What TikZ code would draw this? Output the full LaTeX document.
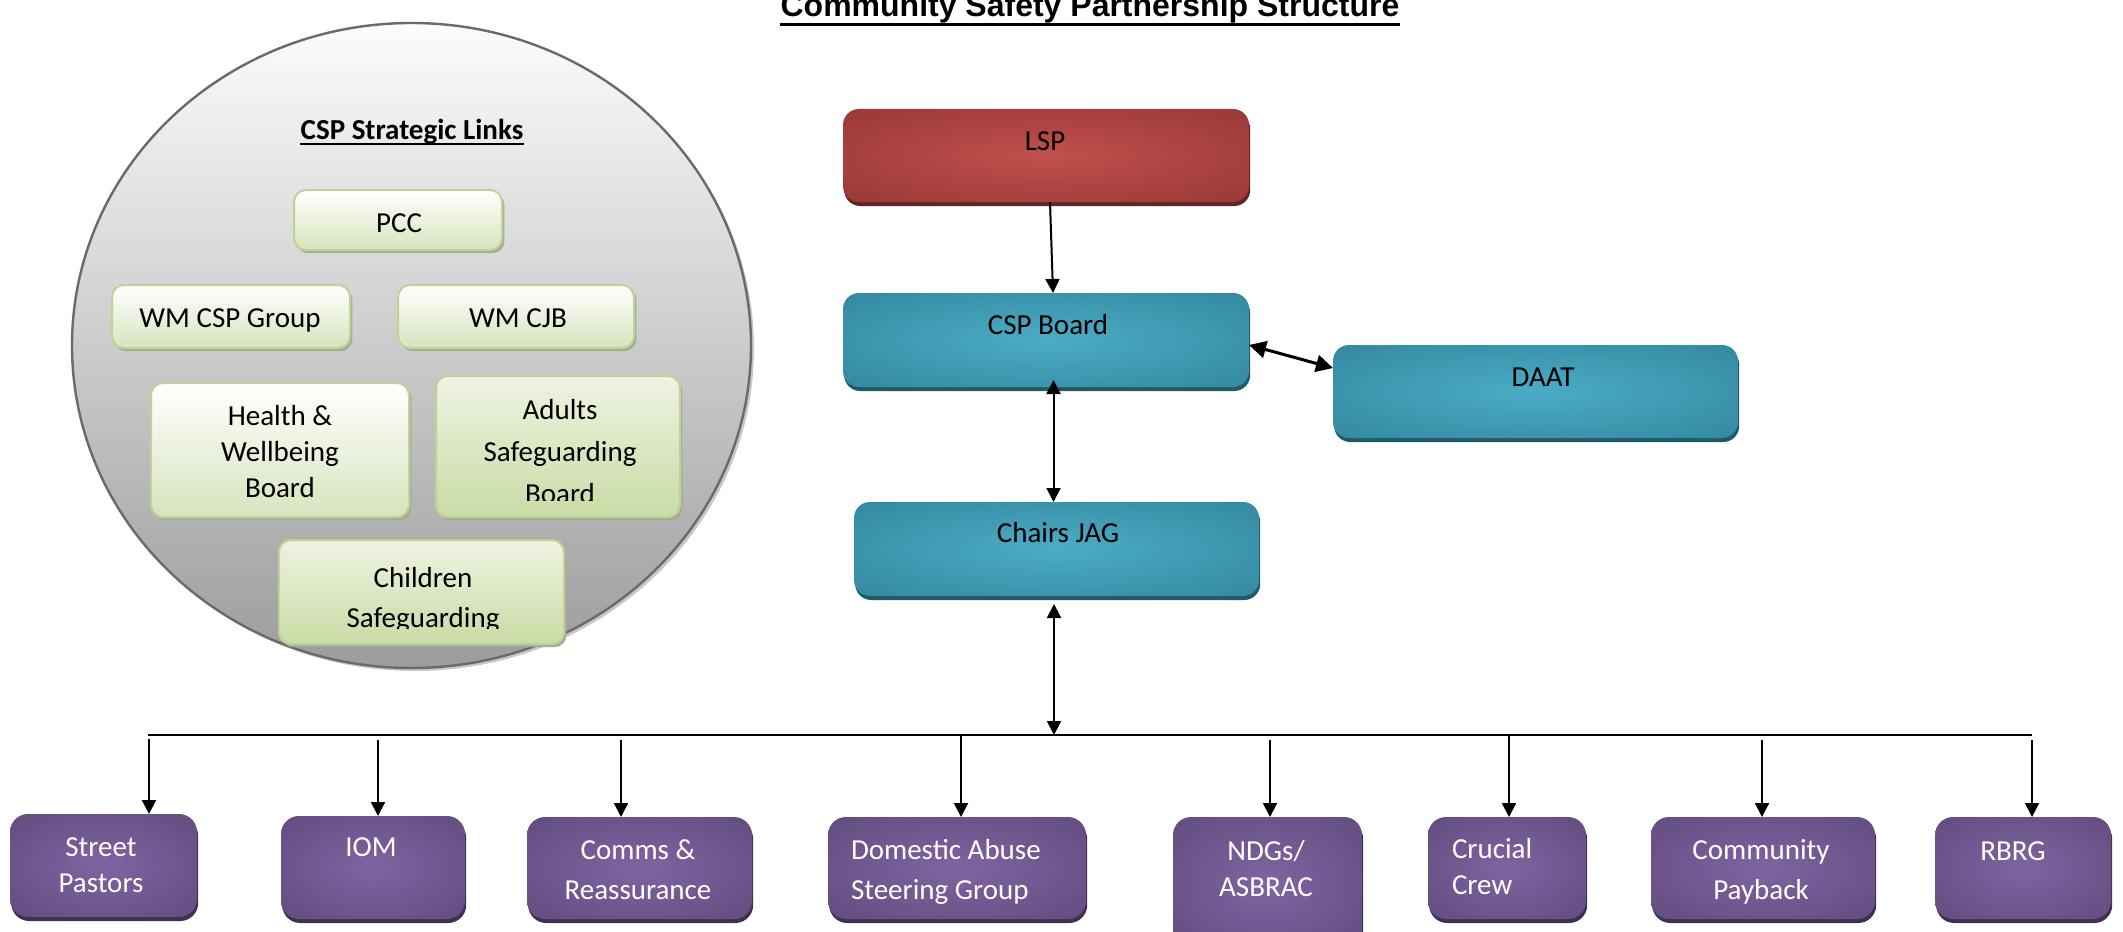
\documentclass[tikz,border=0pt]{standalone}
\usepackage{fontspec}
\setmainfont{Carlito}
\newfontfamily\arialfam{Liberation Sans}
\usetikzlibrary{arrows.meta,shapes.geometric}

\definecolor{redin}{HTML}{C0504D}
\definecolor{redout}{HTML}{943634}
\definecolor{redsh}{HTML}{632523}
\definecolor{tealin}{HTML}{4BACC6}
\definecolor{tealout}{HTML}{31849B}
\definecolor{tealsh}{HTML}{215968}
\definecolor{purin}{HTML}{8064A2}
\definecolor{purout}{HTML}{5F497A}
\definecolor{pursh}{HTML}{3F3151}
\definecolor{grnborder}{HTML}{BFD395}
\definecolor{grnlt}{HTML}{D7E4BD}
\definecolor{grntop}{HTML}{EEF3E2}
\definecolor{grnmd}{HTML}{C9DBA5}
\definecolor{grnsh}{HTML}{A3AD95}
\definecolor{circtop}{HTML}{FCFCFC}
\definecolor{circbot}{HTML}{9C9C9C}
\definecolor{circline}{HTML}{6A6A6A}

\pgfdeclareradialshading{redshade}{\pgfpoint{0bp}{0bp}}{color(0bp)=(redin); color(40bp)=(redout); color(75bp)=(redout)}
\pgfdeclareradialshading{tealshade}{\pgfpoint{0bp}{0bp}}{color(0bp)=(tealin); color(40bp)=(tealout); color(75bp)=(tealout)}
\pgfdeclareradialshading{purshade}{\pgfpoint{0bp}{0bp}}{color(0bp)=(purin); color(40bp)=(purout); color(75bp)=(purout)}

\newcommand\mkbox[6]{%
  \node[#1, minimum width={(#5-#3)*0.5pt}, minimum height={(#6-#4)*0.5pt}] (#2) at ({(#3+#5)/2},{(#4+#6)/2}) {};%
}

\tikzset{
  boxbase/.style={rectangle, inner sep=0pt, outer sep=0pt},
  redbox/.style={boxbase, rounded corners=8pt, shading=redshade,
    preaction={fill=redsh, transform canvas={xshift=0.6pt,yshift=-2pt}}},
  tealbox/.style={boxbase, rounded corners=8pt, shading=tealshade,
    preaction={fill=tealsh, transform canvas={xshift=0.6pt,yshift=-2pt}}},
  purbox/.style={boxbase, rounded corners=9pt, shading=purshade,
    preaction={fill=pursh, transform canvas={xshift=0.6pt,yshift=-2pt}}},
  grnbox/.style={boxbase, rounded corners=6pt, draw=grnborder, line width=1pt,
    top color=white, bottom color=grnlt,
    preaction={fill=grnsh, transform canvas={xshift=1.2pt,yshift=-1.6pt}}},
  grnbox2/.style={grnbox, top color=grntop, bottom color=grnmd},
  txt/.style={font=\fontsize{14.5}{18}\selectfont, inner sep=0pt, outer sep=0pt, align=center, anchor=north},
  ltxt/.style={txt, align=left, anchor=north west},
  wtxt/.style={txt, text=white},
  wltxt/.style={ltxt, text=white},
  arr/.style={line width=1pt, -{Triangle[length=7pt,width=7pt]}},
  darr/.style={line width=1pt, {Triangle[length=7pt,width=7pt]}-{Triangle[length=7pt,width=7pt]}},
  bdarr/.style={line width=1.5pt, {Triangle[length=8.5pt,width=8.5pt]}-{Triangle[length=8.5pt,width=8.5pt]}},
}

\begin{document}
\begin{tikzpicture}[x=0.5pt, y=-0.5pt]
\useasboundingbox (0,0) rectangle (2123,931);
\fill[white] (0,0) rectangle (2123,931);

% Title
\node[font=\arialfam\bfseries\fontsize{16}{19}\selectfont, inner sep=0pt, anchor=base] (title) at (1090,17) {Community Safety Partnership Structure};
\draw[line width=1.5pt] ([yshift=-4pt]title.base west) -- ([yshift=-4pt]title.base east);

% Strategic links circle
\node[ellipse, inner sep=0pt, outer sep=0pt, draw=circline, line width=1.2pt,
      top color=circtop, bottom color=circbot,
      minimum width=339.5pt, minimum height=322.5pt,
      preaction={fill=black!22, transform canvas={xshift=1.5pt,yshift=-1.5pt}}]
      (links) at (411.5,345.5) {};
\node[font=\bfseries\fontsize{14.5}{18}\selectfont, inner sep=0pt, anchor=base] (linkstitle) at (412,140) {CSP Strategic Links};
\draw[line width=0.9pt] ([yshift=-2pt]linkstitle.base west) -- ([yshift=-2pt]linkstitle.base east);

\mkbox{grnbox}{pcc}{294}{190}{502}{250}
\mkbox{grnbox}{wmcsp}{112}{285}{350}{348}
\mkbox{grnbox}{wmcjb}{398}{285}{634}{348}
\mkbox{grnbox}{hwb}{151}{383}{409}{517}
\mkbox{grnbox2}{asb}{436}{376}{680}{517}
\mkbox{grnbox2}{csb}{279}{540}{564}{644}

\node[txt] (pcct) at (399,206.8) {\strut PCC};
\node[txt] (wmcspt) at (230,301.8) {\strut WM CSP Group};
\node[txt] (wmcjbt) at (518,301.8) {\strut WM CJB};
\node[txt] (hwbt) at (280,399.8) {\strut Health \&\\Wellbeing\\Board};
\begin{scope}
  \clip (436,376) rectangle (680,500);
  \node[txt] (asbt) at (560,393.8) {\strut Adults\\[3pt]Safeguarding\\[3pt]Board};
\end{scope}
\begin{scope}
  \clip (279,540) rectangle (564,628);
  \node[txt] (csbt) at (423,561.8) {\strut Children\\[2pt]Safeguarding};
\end{scope}

% Main chain
\mkbox{redbox}{lsp}{843}{109}{1249}{202}
\mkbox{tealbox}{csp}{843}{293}{1249}{387}
\mkbox{tealbox}{daat}{1333}{345}{1738}{438}
\mkbox{tealbox}{jag}{854}{502}{1259}{596}

\node[txt] (lspt) at (1045,124.8) {\strut LSP};
\node[txt] (cspt) at (1048,308.8) {\strut CSP Board};
\node[txt] (daatt) at (1543,360.8) {\strut DAAT};
\node[txt] (jagt) at (1058,516.8) {\strut Chairs JAG};

% Bottom row
\mkbox{purbox}{sp}{10}{814}{197}{917}
\mkbox{purbox}{iom}{281}{816}{465}{919}
\mkbox{purbox}{comms}{527}{817}{752}{919}
\mkbox{purbox}{dasg}{828}{817}{1086}{919}
\mkbox{purbox}{ndg}{1173}{817}{1362}{950}
\mkbox{purbox}{cc}{1428}{817}{1586}{919}
\mkbox{purbox}{cp}{1651}{817}{1875}{919}
\mkbox{purbox}{rbrg}{1935}{817}{2111}{919}

\node[wtxt] (spt) at (101,830.8) {\strut Street\\Pastors};
\node[wtxt] (iomt) at (371,830.8) {\strut IOM};
\node[wtxt] (commst) at (638,833.8) {\strut Comms \&\\[2pt]Reassurance};
\node[wltxt] (dasgt) at (851,833.8) {\strut Domestic Abuse\\[2pt]Steering Group};
\node[wtxt] (ndgt) at (1266,834.8) {\strut NDGs/\\ASBRAC};
\node[wltxt] (cct) at (1452,832.8) {\strut Crucial\\Crew};
\node[wtxt] (cpt) at (1761,833.8) {\strut Community\\[2pt]Payback};
\node[wtxt] (rbrgt) at (2013,834.8) {\strut RBRG};

% Connectors
\draw[arr] ([xshift=2pt]lsp.south) -- ([xshift=3.5pt]csp.north);
\draw[bdarr] ([yshift=-2.5pt]csp.east) -- ([yshift=11.75pt]daat.west);
\draw[darr] ([xshift=3.75pt,yshift=3.5pt]csp.south) -- ([xshift=-1.5pt]jag.north);

\coordinate (busL) at (148,735);
\coordinate (busR) at (2032,735);
\coordinate (busC) at (1054,735);
\draw[line width=1.1pt] (busL) -- (busR);
\draw[darr] ([xshift=-1.25pt,yshift=-4pt]jag.south) -- (busC);

\foreach \n/\x/\y in {sp/149/739, iom/378/740, comms/621/740, dasg/961/735, ndg/1270/740, cc/1509/735, cp/1762/740, rbrg/2032/740}{
  \coordinate (top-\n) at (\x,\y);
  \draw[arr] (top-\n) -- (top-\n |- \n.north);
}
\end{tikzpicture}
\end{document}
